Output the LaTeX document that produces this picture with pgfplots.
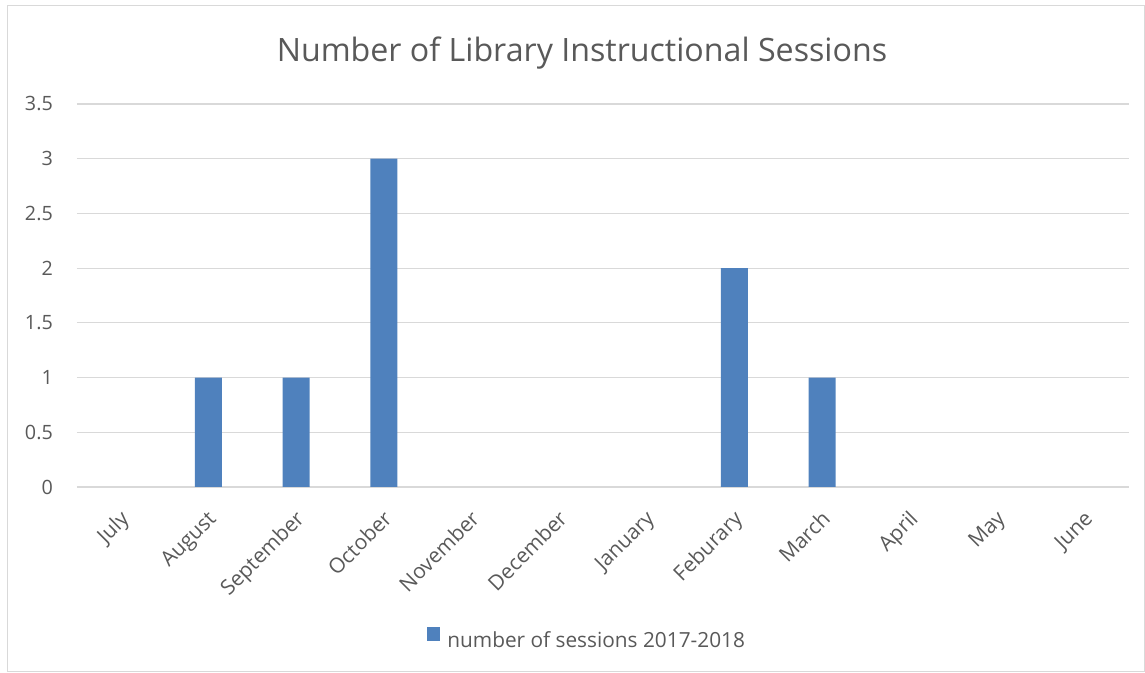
\documentclass[border=0pt]{standalone}
\usepackage{pgfplots}
\pgfplotsset{compat=1.18}
\usepackage{fontspec}
\setmainfont{Open Sans}
\definecolor{barblue}{HTML}{4F81BD}
\definecolor{txt}{HTML}{595959}
\definecolor{gridc}{HTML}{D9D9D9}
\begin{document}
\begin{tikzpicture}[x=1bp,y=1bp]
\path (0,0) rectangle (1145,672);
\draw[gridc,line width=1.2bp] (7.5,0.5) rectangle (1144.5,666.5);
\node[anchor=base,text=txt,font=\fontsize{32.3}{38}\selectfont] at (582,610) {Number of Library Instructional Sessions};
\begin{axis}[
  at={(77bp,185bp)}, anchor=south west,
  scale only axis, width=1052bp, height=383bp,
  ybar, bar width=27bp,
  xmin=-0.5, xmax=11.5, ymin=0, ymax=3.5,
  xtick={0,...,11},
  xticklabels={July,August,September,October,November,December,January,Feburary,March,April,May,June},
  ytick={0,0.5,...,3.5},
  yticklabels={0,0.5,1,1.5,2,2.5,3,3.5},
  axis line style={draw=none},
  major tick length=0,
  ymajorgrids, grid style={gridc, line width=1.2bp},
  tick label style={text=txt},
  /pgf/number format/assume math mode=true,
  yticklabel style={anchor=east, inner sep=0, xshift=-24bp, font=\fontsize{19.8}{23}\selectfont},
  xticklabel style={yshift=-22bp, xshift=-2bp, rotate=45, anchor=north east, inner sep=0, font=\fontsize{21}{24}\selectfont},
  legend style={at={(axis description cs:0.485,-0.397)}, anchor=center, draw=none, fill=none,
    font=\fontsize{20.9}{24}\selectfont, text=txt, inner sep=0, legend cell align=left,
    /tikz/every odd column/.append style={column sep=5bp}},
  legend image code/.code={\fill[barblue, draw=none] (0bp,-1bp) rectangle (13bp,13bp);},
]
\addplot[fill=barblue, draw=none] coordinates {(1,1) (2,1) (3,3) (7,2) (8,1)};
\addlegendentry{number of sessions 2017-2018}
\end{axis}
\end{tikzpicture}
\end{document}
